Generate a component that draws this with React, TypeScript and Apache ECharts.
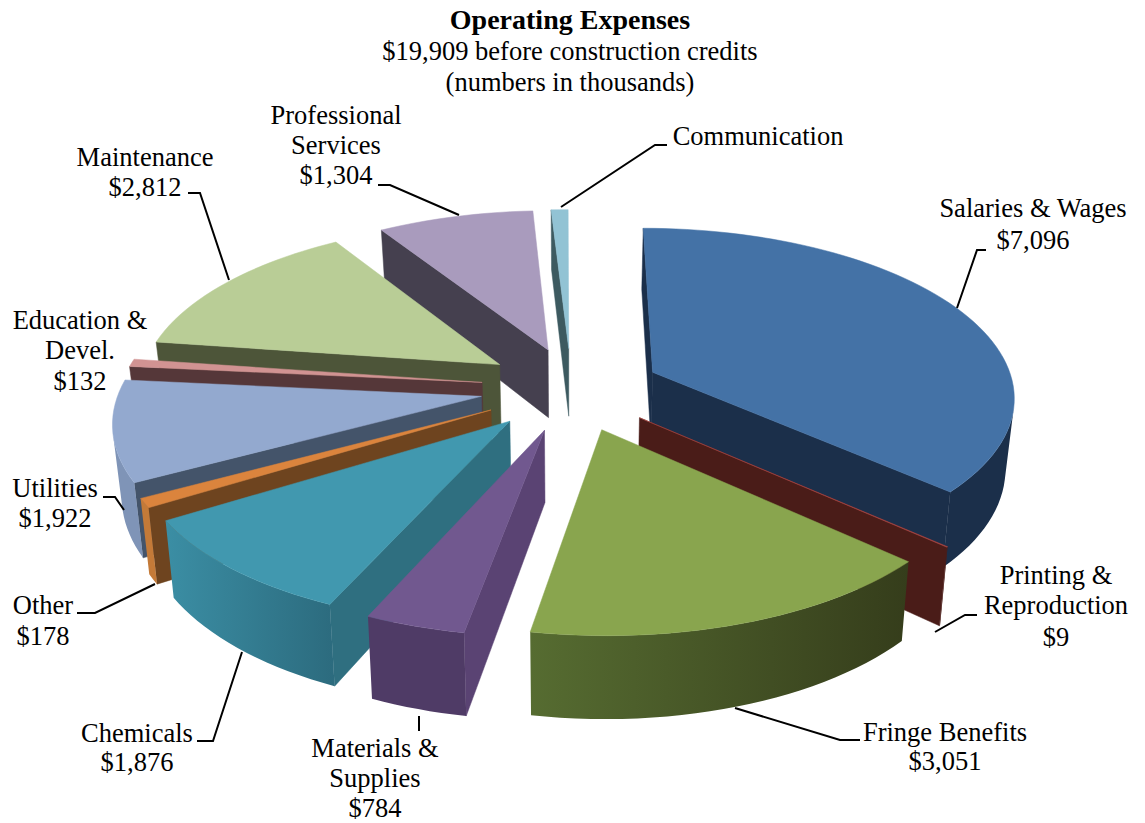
import React, { useEffect, useRef } from "react";
import * as echarts from "echarts";

const categories = ["Salaries & Wages", "Printing & Reproduction", "Fringe Benefits", "Materials & Supplies", "Chemicals", "Other", "Utilities", "Education & Devel.", "Maintenance", "Professional Services", "Communication"];
const values = [7096, 9, 3051, 784, 1876, 178, 1922, 132, 2812, 1304, 160];
const topColors = ["#4472a6", "#aa4643", "#89a54e", "#71588f", "#4198af", "#db843d", "#93a9cf", "#d19392", "#b9cd96", "#a99bbd", "#92c3d4"];
const sideColors = ["#1b2f4a", "#4a1c18", "#37401c", "#5a4373", "#2f6f80", "#6e441f", "#44546a", "#553739", "#4d5539", "#45404f", "#3d5a60"];
const rimColors = [["#1b2f4a", "#1b2f4a"], ["#4a1c18", "#4a1c18"], ["#566c31", "#353d1b"], ["#4f3b66", "#4f3b66"], ["#3b8ea4", "#2c6b7e"], ["#c47a38", "#c47a38"], ["#7f94b7", "#7f94b7"], ["#553739", "#553739"], ["#4d5539", "#4d5539"], ["#45404f", "#45404f"], ["#3d5a60", "#3d5a60"]];

const CX = 571, CY = 389, F = 2750, K = 1270, D = 7.6, H = 531, TAPER = 0.02, EXPLODE = 0.25, START = 0;

const total = values.reduce((a, b) => a + b, 0);
const spans = (() => {
  let acc = START;
  return values.map((v) => {
    const s = acc;
    acc += (v / total) * 360;
    return [s, acc];
  });
})();
const rad = (d: number) => (d * Math.PI) / 180;
const bump = (t: number, c: number, w: number) => Math.exp(-(((t - c) / w) ** 2));
// the original's 3-D view distorts the rim angles a little
const warp = (t: number) => t - 2.5 * bump(t, 270, 25) - 5 * bump(t, 332, 15) + bump(t, 188, 10);
const project = (x: number, y: number, h: number): number[] => [CX + ((F * x) / (D - y)) * (1 - TAPER * h), CY + (K * y + H * h) / (D - y)];
const drawOrder = values.map((_, i) => i).sort((a, b) => {
  const m = (i: number) => -Math.cos(rad((spans[i][0] + spans[i][1]) / 2));
  return m(a) - m(b);
});
const facing = (p: number[], q: number[], qb: number[], pb: number[]) => {
  const pts = [p, q, qb, pb];
  let s = 0;
  for (let i = 0; i < 4; i++) {
    const a = pts[i], b = pts[(i + 1) % 4];
    s += a[0] * b[1] - b[0] * a[1];
  }
  return s < 0;
};

function renderSlice(params: any) {
  const idx = drawOrder[params.dataIndex];
  const [s, e] = spans[idx];
  const mid = rad((s + e) / 2);
  const ox = Math.sin(mid) * EXPLODE, oy = -Math.cos(mid) * EXPLODE;
  const steps = Math.max(2, Math.ceil((e - s) / 2));
  const rim: number[][] = [];
  for (let i = 0; i <= steps; i++) {
    const t = rad(warp(s + ((e - s) * i) / steps));
    rim.push([ox + Math.sin(t), oy - Math.cos(t)]);
  }
  const children: any[] = [];
  const poly = (points: number[][], fill: any, stroke: string) => ({ type: "polygon", shape: { points }, style: { fill, stroke, lineWidth: 0.5 } });
  const wall = (a: number[], b: number[], fill: string) => {
    const q = [project(a[0], a[1], 0), project(b[0], b[1], 0), project(b[0], b[1], 1), project(a[0], a[1], 1)];
    if (facing(q[0], q[1], q[2], q[3])) children.push(poly(q, fill, fill));
  };
  wall([ox, oy], rim[0], sideColors[idx]);
  wall(rim[steps], [ox, oy], sideColors[idx]);
  let run: number[][] = [];
  const flush = () => {
    if (run.length > 1) {
      const top = run.map((p) => project(p[0], p[1], 0));
      const bot = run.map((p) => project(p[0], p[1], 1)).reverse();
      const fill = new echarts.graphic.LinearGradient(0, 0, 1, 0, [
        { offset: 0, color: rimColors[idx][0] },
        { offset: 1, color: rimColors[idx][1] },
      ]);
      children.push(poly(top.concat(bot), fill, "none"));
    }
    run = [];
  };
  for (let i = 0; i < steps; i++) {
    const a = rim[i], b = rim[i + 1];
    if (facing(project(a[0], a[1], 0), project(b[0], b[1], 0), project(b[0], b[1], 1), project(a[0], a[1], 1))) {
      if (!run.length) run.push(a);
      run.push(b);
    } else flush();
  }
  flush();
  const topPts = [project(ox, oy, 0)].concat(rim.map((p) => project(p[0], p[1], 0)));
  children.push(poly(topPts, topColors[idx], topColors[idx]));
  return { type: "group", children };
}

const money = (i: number) => "$" + values[i].toLocaleString("en-US");
const labelLines: [string[], number, number[]][] = [
  [["Salaries & Wages", money(0)], 1033, [208, 240]],
  [["Printing &", "Reproduction", money(1)], 1056, [575, 605, 637]],
  [["Fringe Benefits", money(2)], 945, [732, 761]],
  [["Materials &", "Supplies", money(3)], 375, [748, 778, 808]],
  [["Chemicals", money(4)], 137, [733, 762]],
  [["Other", money(5)], 43, [605, 636]],
  [["Utilities", money(6)], 55, [488, 518]],
  [["Education &", "Devel.", money(7)], 80, [320, 350, 381]],
  [["Maintenance", money(8)], 145, [157, 187]],
  [["Professional", "Services", money(9)], 336, [115, 145, 175]],
  [["Communication"], 758, [136]],
];
const leaders = [
  [[957, 308], [977, 250], [986, 250]],
  [[935, 632], [965, 615], [977, 615]],
  [[735, 708], [840, 740], [860, 740]],
  [[419, 716], [419, 731]],
  [[242, 652], [213, 741], [197, 741]],
  [[155, 584], [95, 613], [77, 613]],
  [[124, 510], [115, 497], [103, 497]],
  [[229, 280], [200, 193], [188, 193]],
  [[459, 215], [390, 185], [378, 185]],
  [[561, 207], [655, 145], [667, 145]],
];
const FONT = '"Liberation Serif", serif';
const text = (t: string, x: number, y: number, bold = false) => ({
  type: "text",
  x, y,
  style: { text: t, font: `${bold ? "bold 28" : "26.5"}px ${FONT}`, fill: "#000", textAlign: "center", textVerticalAlign: "middle" },
  z: 10,
});

export default function App() {
  const ref = useRef<HTMLDivElement>(null);
  useEffect(() => {
    const chart = echarts.init(ref.current!, undefined, { renderer: "svg" });
    const graphic: any[] = [
      text("Operating Expenses", 570, 19, true),
      text("$19,909 before construction credits", 570, 51),
      text("(numbers in thousands)", 570, 82),
    ];
    labelLines.forEach(([lines, x, ys]) => lines.forEach((l, i) => graphic.push(text(l, x, ys[i]))));
    leaders.forEach((points) =>
      graphic.push({ type: "polyline", shape: { points }, style: { stroke: "#000", lineWidth: 2, fill: "none" }, z: 9 })
    );
    chart.setOption({
      animation: false,
      backgroundColor: "#fff",
      graphic,
      series: [
        {
          type: "custom",
          coordinateSystem: "none",
          renderItem: renderSlice,
          data: drawOrder.map((i) => ({ name: categories[i], value: values[i] })),
          silent: true,
        },
      ],
    });
    return () => chart.dispose();
  }, []);
  return <div ref={ref} style={{ position: "fixed", left: 0, top: 0, width: 1145, height: 823 }} />;
}
